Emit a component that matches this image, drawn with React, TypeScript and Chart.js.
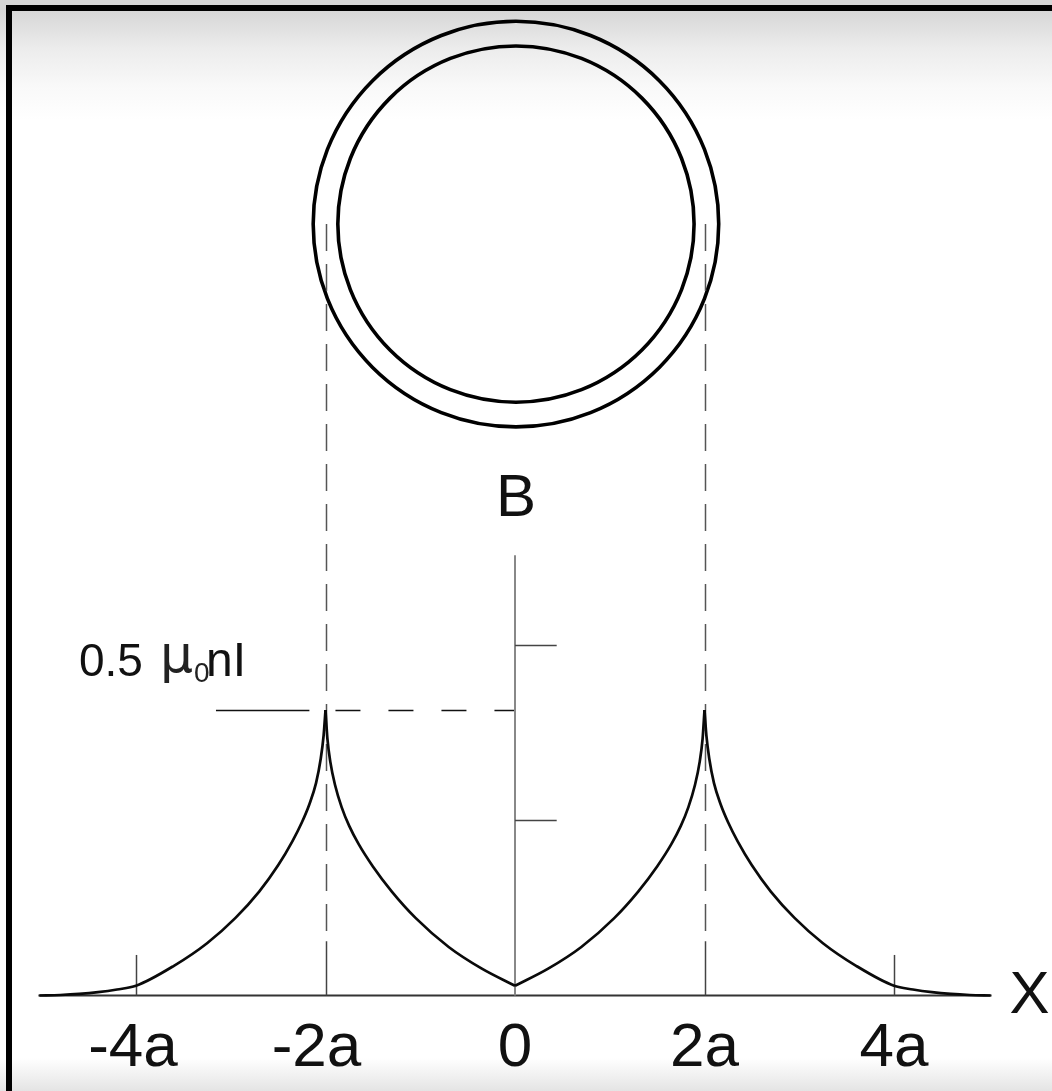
import React, { useEffect, useRef } from "react";
import { Chart, registerables } from "chart.js";

Chart.register(...registerables);

// ---- data (x in units of a, B in units of mu0 n I) ----
const leftOuterX = [-5.02, -4.8, -4.6, -4.4, -4.2, -4.0, -3.6, -3.25, -2.95, -2.7, -2.5, -2.35, -2.25, -2.17, -2.1, -2.05, -2.02, -2.0];
const leftOuterB = [0, 0.0009, 0.0027, 0.0058, 0.0105, 0.017, 0.052, 0.0916, 0.136, 0.182, 0.228, 0.27, 0.303, 0.335, 0.372, 0.415, 0.455, 0.5];

const leftInnerX = [-2.0, -1.98, -1.95, -1.9, -1.83, -1.75, -1.65, -1.5, -1.3, -1.05, -0.7, -0.35, 0];
const leftInnerB = [0.5, 0.45, 0.41, 0.369, 0.33, 0.297, 0.265, 0.226, 0.182, 0.136, 0.085, 0.047, 0.017];

const rightInnerX = [0, 0.35, 0.7, 1.05, 1.3, 1.5, 1.65, 1.75, 1.83, 1.9, 1.95, 1.98, 2.0];
const rightInnerB = [0.017, 0.047, 0.085, 0.136, 0.182, 0.226, 0.265, 0.297, 0.33, 0.369, 0.41, 0.45, 0.5];

const rightOuterX = [2.0, 2.02, 2.05, 2.1, 2.17, 2.25, 2.35, 2.5, 2.7, 2.95, 3.25, 3.6, 4.0, 4.2, 4.4, 4.6, 4.8, 5.02];
const rightOuterB = [0.5, 0.455, 0.415, 0.372, 0.335, 0.303, 0.27, 0.228, 0.182, 0.136, 0.0916, 0.052, 0.017, 0.0105, 0.0058, 0.0027, 0.0009, 0];

const xTickValues = [-4, -2, 0, 2, 4];
const xTickLabels = ["-4a", "-2a", "0", "2a", "4a"];
const bTickValues = [0.307, 0.614];
const peakValue = 0.5;
const peakPositions = [-2, 2];
const ringRadii = [2.14, 1.88];
const ringCenterX = 0.01;
const ringCenterB = 1.351;

// ---- scale extents ----
const X_MIN = -5.4354;
const X_MAX = 5.6675;
const Y_MIN = -0.16725;
const Y_MAX = 1.7434;

const FONT = '"Liberation Sans", Arial, Helvetica, sans-serif';
const LABEL_NUDGE: Record<string, number> = { "-4a": -3, "-2a": -9 };

function toPts(xs: number[], ys: number[]) {
  return xs.map((x, i) => ({ x, y: ys[i] }));
}

const diagramPlugin = {
  id: "diagram",
  beforeDraw(chart: any) {
    const { ctx, width, height } = chart;
    ctx.save();
    ctx.fillStyle = "#ffffff";
    ctx.fillRect(0, 0, width, height);
    let g = ctx.createLinearGradient(0, 10, 0, 120);
    g.addColorStop(0, "#d6d6d6");
    g.addColorStop(0.35, "#ececec");
    g.addColorStop(0.7, "#f9f9f9");
    g.addColorStop(1, "#ffffff");
    ctx.fillStyle = g;
    ctx.fillRect(0, 0, width, 120);
    g = ctx.createLinearGradient(0, 1058, 0, height);
    g.addColorStop(0, "#ffffff");
    g.addColorStop(1, "#e4e4e4");
    ctx.fillStyle = g;
    ctx.fillRect(0, 1058, width, height - 1058);
    // frame
    ctx.fillStyle = "#000";
    ctx.fillRect(6, 5, width - 6, 6);
    ctx.fillRect(6, 5, 6, height - 5);
    ctx.restore();
  },
  beforeDatasetsDraw(chart: any) {
    const { ctx } = chart;
    const xs = chart.scales.x;
    const ys = chart.scales.y;
    const px = (v: number) => xs.getPixelForValue(v);
    const py = (v: number) => ys.getPixelForValue(v);
    ctx.save();

    // rings
    ctx.strokeStyle = "#000";
    ctx.lineWidth = 3.6;
    ringRadii.forEach((r) => {
      const rp = Math.abs(px(r) - px(0));
      ctx.beginPath();
      ctx.arc(px(ringCenterX), py(ringCenterB), rp, 0, Math.PI * 2);
      ctx.stroke();
    });

    // vertical dashed projections
    ctx.strokeStyle = "#555";
    ctx.lineWidth = 1.5;
    ctx.setLineDash([27, 13]);
    peakPositions.forEach((x) => {
      ctx.beginPath();
      ctx.moveTo(Math.round(px(x)) + 0.5, py(ringCenterB));
      ctx.lineTo(Math.round(px(x)) + 0.5, py(0.095));
      ctx.stroke();
    });
    ctx.setLineDash([]);

    // peak leader line
    const yPeak = Math.round(py(peakValue)) + 0.5;
    ctx.strokeStyle = "#111";
    ctx.lineWidth = 1.6;
    ctx.beginPath();
    ctx.moveTo(px(-3.156), yPeak);
    ctx.lineTo(px(-2.17), yPeak);
    ctx.stroke();
    ctx.setLineDash([25, 28]);
    ctx.beginPath();
    ctx.moveTo(px(-1.895), yPeak);
    ctx.lineTo(px(0), yPeak);
    ctx.stroke();
    ctx.setLineDash([]);

    // x axis
    ctx.strokeStyle = "#333";
    ctx.lineWidth = 2;
    ctx.beginPath();
    ctx.moveTo(px(-5.03), py(0));
    ctx.lineTo(px(5.03), py(0));
    ctx.stroke();

    // x ticks
    ctx.strokeStyle = "#444";
    ctx.lineWidth = 1.5;
    xTickValues.forEach((v) => {
      if (v === 0) return;
      const top = Math.abs(v) === 2 ? 0.095 : 0.071;
      const x = Math.round(px(v)) + 0.5;
      ctx.beginPath();
      ctx.moveTo(x, py(0));
      ctx.lineTo(x, py(top));
      ctx.stroke();
    });

    // B axis
    ctx.strokeStyle = "#888";
    ctx.lineWidth = 2;
    ctx.beginPath();
    ctx.moveTo(px(0), py(0));
    ctx.lineTo(px(0), py(0.771));
    ctx.stroke();

    // B ticks
    ctx.strokeStyle = "#444";
    ctx.lineWidth = 1.5;
    bTickValues.forEach((v) => {
      const y = Math.round(py(v)) + 0.5;
      ctx.beginPath();
      ctx.moveTo(px(0), y);
      ctx.lineTo(px(0.44), y);
      ctx.stroke();
    });
    ctx.restore();
  },
  afterDatasetsDraw(chart: any) {
    const { ctx } = chart;
    const xs = chart.scales.x;
    const ys = chart.scales.y;
    const px = (v: number) => xs.getPixelForValue(v);
    const py = (v: number) => ys.getPixelForValue(v);
    ctx.save();
    ctx.fillStyle = "#111";
    ctx.textBaseline = "alphabetic";

    // x tick labels
    ctx.font = `62px ${FONT}`;
    ctx.textAlign = "center";
    xTickValues.forEach((v, i) => {
      const lbl = xTickLabels[i];
      const nudge = LABEL_NUDGE[lbl] || 0;
      ctx.fillText(lbl, px(v) + nudge, py(0) + 71);
    });

    // axis names
    ctx.font = `60px ${FONT}`;
    ctx.textAlign = "left";
    ctx.fillText("X", px(5.03) + 18, py(0) + 18);
    ctx.textAlign = "center";
    ctx.fillText("B", px(0) + 1, py(0) - 479);

    // peak label 0.5 μ0nI
    const base = py(peakValue) - 33.5;
    ctx.textAlign = "left";
    ctx.font = `46px ${FONT}`;
    ctx.fillText("0.5", 79, base);
    ctx.fillStyle = "#222";
    ctx.font = `52px "DejaVu Sans", ${FONT}`;
    ctx.fillText("\u03bc", 160, base - 4);
    ctx.font = `28px ${FONT}`;
    ctx.fillText("0", 194, base + 6);
    ctx.fillStyle = "#111";
    ctx.font = `48px ${FONT}`;
    ctx.fillText("nI", 206, base);
    ctx.restore();
  },
};

export default function App() {
  const canvasRef = useRef<HTMLCanvasElement | null>(null);

  useEffect(() => {
    if (!canvasRef.current) return;
    const common = {
      borderColor: "#0a0a0a",
      borderWidth: 2.7,
      pointRadius: 0,
      fill: false,
      cubicInterpolationMode: "monotone" as const,
    };
    const chart = new Chart(canvasRef.current, {
      type: "line",
      data: {
        datasets: [
          { ...common, data: toPts(leftOuterX, leftOuterB) },
          { ...common, data: toPts(leftInnerX, leftInnerB) },
          { ...common, data: toPts(rightInnerX, rightInnerB) },
          { ...common, data: toPts(rightOuterX, rightOuterB) },
        ],
      },
      options: {
        animation: false,
        responsive: false,
        devicePixelRatio: 1,
        events: [],
        layout: { padding: 0 },
        plugins: {
          legend: { display: false },
          tooltip: { enabled: false },
        },
        scales: {
          x: { type: "linear", min: X_MIN, max: X_MAX, display: false },
          y: { type: "linear", min: Y_MIN, max: Y_MAX, display: false },
        },
      },
      plugins: [diagramPlugin],
    } as any);
    return () => chart.destroy();
  }, []);

  return (
    <div style={{ position: "absolute", left: 0, top: 0, width: 1052, height: 1091 }}>
      <canvas ref={canvasRef} width={1052} height={1091} style={{ display: "block" }} />
    </div>
  );
}
